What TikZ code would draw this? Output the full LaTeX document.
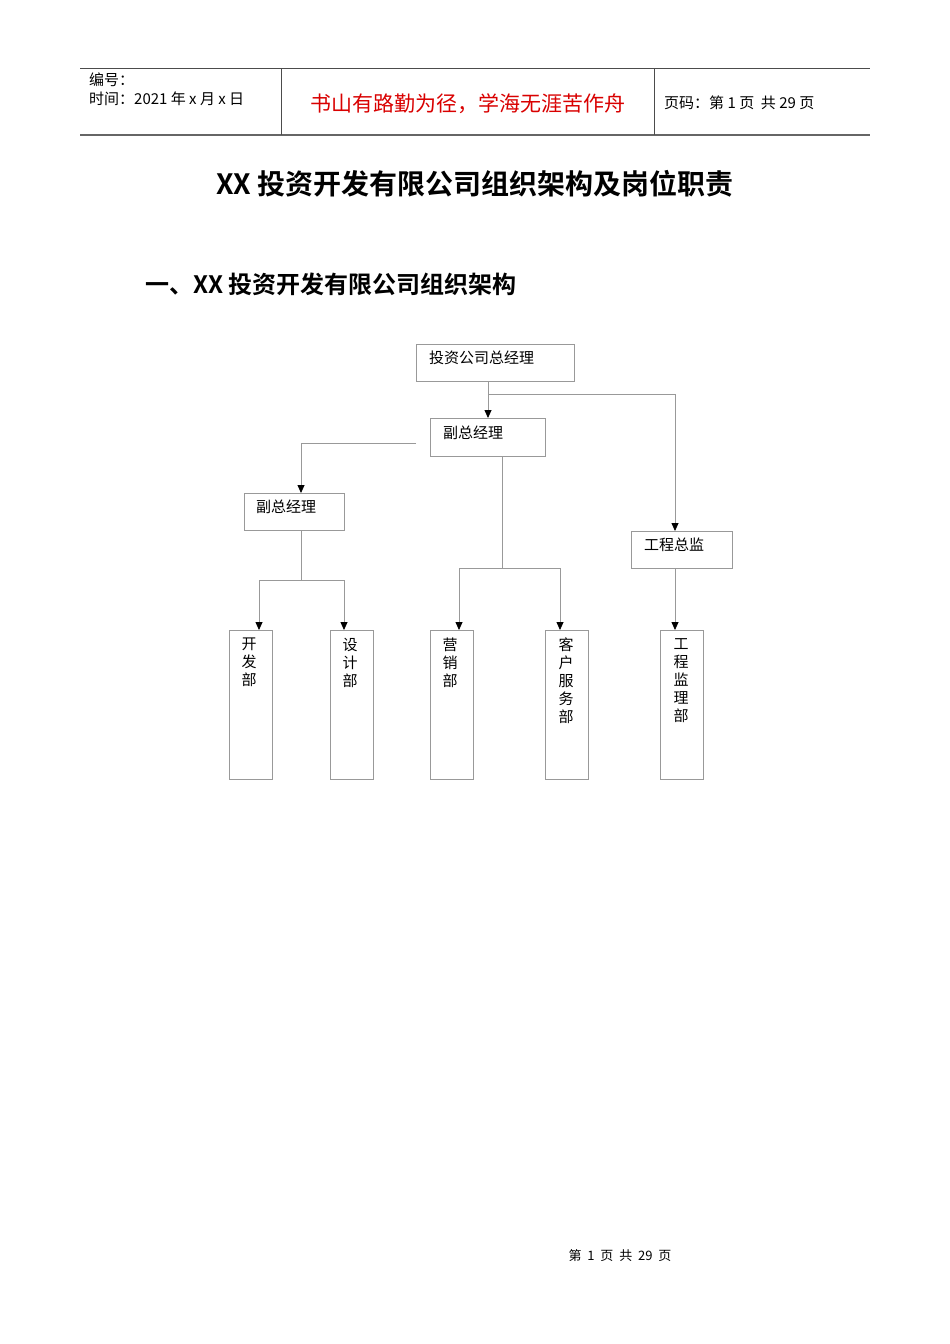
\documentclass[tikz,border=0pt]{standalone}
\usepackage{fontspec}
\newfontfamily\cjk{Noto Sans CJK SC}
\newfontfamily\cjkb{Noto Sans CJK SC Bold}
\usetikzlibrary{arrows.meta}
\begin{document}
\begin{tikzpicture}[x=1pt,y=-1pt,
  box/.style={draw=black!40,line width=0.8pt,inner sep=0},
  btxt/.style={anchor=north west,font=\cjk\fontsize{15}{15}\selectfont,inner sep=0},
  conn/.style={draw=black!40,line width=0.8pt},
  arr/.style={conn,-{Triangle[length=8pt,width=7pt,black]}}]
\useasboundingbox (0,0) rectangle (950,1344);
\fill[white] (0,0) rectangle (950,1344);
% header
\draw[black!70,line width=0.8pt] (80,68) -- (870,68);
\draw[black!60,line width=1.5pt] (80,135) -- (870,135);
\draw[black!70,line width=0.8pt] (281,68) -- (281,135) (654,68) -- (654,135);
\node[anchor=west,font=\cjk\fontsize{15}{15}\selectfont,inner sep=0] (h1) at (89,80) {编号：};
\node[anchor=west,font=\cjk\fontsize{15}{15}\selectfont,inner sep=0] (h2) at (89,99) {时间：2021 年 x 月 x 日};
\node[font=\cjk\fontsize{21}{21}\selectfont,text=red!85!black,inner sep=0] (h3) at (468,104) {书山有路勤为径，学海无涯苦作舟};
\node[anchor=west,font=\cjk\fontsize{15}{15}\selectfont,inner sep=0] (h4) at (664,103) {页码：第 1 页\ \ 共 29 页};
% titles
\node[font=\cjkb\fontsize{28}{28}\selectfont,inner sep=0] (title) at (475,184) {XX 投资开发有限公司组织架构及岗位职责};
\node[anchor=west,font=\cjkb\fontsize{24}{24}\selectfont,inner sep=0] (sec) at (145,284) {一、XX 投资开发有限公司组织架构};
% boxes
\draw[box] (416,344) rectangle (574,381); \node[btxt] (t1) at (429,351) {投资公司总经理};
\draw[box] (430,418) rectangle (545,456); \node[btxt] (t2) at (443,426) {副总经理};
\draw[box] (244,493) rectangle (344,530); \node[btxt] (t3) at (256,500) {副总经理};
\draw[box] (631,531) rectangle (732,568); \node[btxt] (t4) at (644,538) {工程总监};
\foreach \x/\t/\c in {229/{开\\发\\部}/249, 330/{设\\计\\部}/350, 430/{营\\销\\部}/450, 545/{客\\户\\服\\务\\部}/566, 660/{工\\程\\监\\理\\部}/681}{
  \draw[box] (\x,630) rectangle (\x+43,779);
  \node[anchor=north,align=center,font=\cjk\fontsize{15}{18}\selectfont,inner sep=0] at (\c,638) {\t};
}
% connectors
\coordinate (j1) at (488,394);
\draw[arr] (488,381) -- (488,418);
\draw[arr] (j1) -- (675,394) -- (675,531);
\draw[arr] (416,443) -- (301,443) -- (301,493);
\draw[conn] (301,530) -- (301,580);
\draw[arr] (301,580) -- (259,580) -- (259,630);
\draw[arr] (301,580) -- (344,580) -- (344,630);
\draw[conn] (502,456) -- (502,568);
\draw[arr] (502,568) -- (459,568) -- (459,630);
\draw[arr] (502,568) -- (560,568) -- (560,630);
\draw[arr] (675,568) -- (675,630);
% footer
\node[font=\cjk\fontsize{13}{13}\selectfont,inner sep=0] (foot) at (620,1256) {第\ \ 1\ \ 页\ \ 共\ \ 29\ \ 页};
\end{tikzpicture}
\end{document}
